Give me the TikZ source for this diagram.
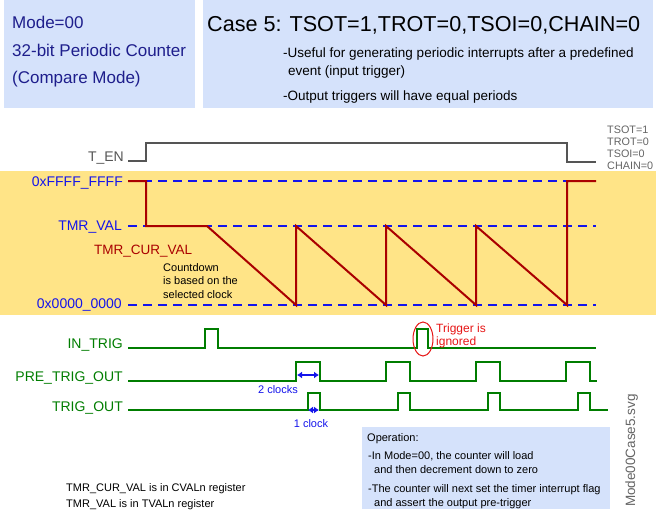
\documentclass[tikz,border=0pt]{standalone}
\usepackage{fontspec}
\setmainfont{Liberation Sans}
\usetikzlibrary{positioning,arrows.meta,shapes.geometric}
\definecolor{infoblue}{RGB}{213,226,251}
\definecolor{bandyellow}{RGB}{255,228,135}
\definecolor{navytext}{RGB}{30,30,140}
\definecolor{lvlblue}{RGB}{20,20,235}
\definecolor{cntred}{RGB}{170,0,0}
\definecolor{sigreen}{RGB}{0,125,0}
\definecolor{engray}{RGB}{85,85,85}
\definecolor{flaggray}{RGB}{100,100,100}
\definecolor{ignred}{RGB}{230,20,20}

\begin{document}
\begin{tikzpicture}[x=1pt, y=-1pt,
  panel/.style={fill=infoblue},
  wave/.style={line width=2pt},
  level/.style={lvlblue, line width=2pt, dash pattern=on 9pt off 6pt},
  txt/.style={inner sep=0pt, anchor=base west},
  lbl/.style={inner sep=0pt, anchor=base east, font=\fontsize{14}{16}\selectfont},
  small/.style={txt, font=\fontsize{11}{13}\selectfont},
  span/.style={{Latex[length=5pt,width=7pt]}-{Latex[length=5pt,width=7pt]}, lvlblue, line width=1.3pt},
  ring/.style={draw=ignred, line width=1pt, ellipse, minimum width=20pt, minimum height=34pt, inner sep=0pt}
]
\useasboundingbox (0,0) rectangle (656,514);
% header panels
\fill[panel] (4,0) rectangle (195,108);
\fill[panel] (203,0) rectangle (653,108);
\node[txt, navytext, font=\fontsize{17}{20}\selectfont] (mode1) at (12,28) {Mode=00};
\node[txt, navytext, font=\fontsize{17}{20}\selectfont] (mode2) at (12,56) {32-bit Periodic Counter};
\node[txt, navytext, font=\fontsize{17}{20}\selectfont] (mode3) at (12,83) {(Compare Mode)};
\node[txt, font=\fontsize{21.6}{26}\selectfont] (title) at (207,31) {Case 5: TSOT=1,TROT=0,TSOI=0,CHAIN=0};
\node[txt, font=\fontsize{13.5}{16}\selectfont] (use1) at (283,57) {-Useful for generating periodic interrupts after a predefined};
\node[txt, font=\fontsize{13.5}{16}\selectfont] (use2) at (288,75) {event (input trigger)};
\node[txt, font=\fontsize{13.5}{16}\selectfont] (use3) at (283,100) {-Output triggers will have equal periods};
% enable
\node[lbl, engray] (ten) at (124,161) {T\_EN};
\draw[wave, engray] (128,161) -- (146,161) -- (146,143) -- (567,143) -- (567,162) -- (596,162);
\node[txt, flaggray, font=\fontsize{10.8}{12}\selectfont] (flag1) at (607,133) {TSOT=1};
\node[txt, flaggray, font=\fontsize{10.8}{12}\selectfont] (flag2) at (607,145) {TROT=0};
\node[txt, flaggray, font=\fontsize{10.8}{12}\selectfont] (flag3) at (607,157) {TSOI=0};
\node[txt, flaggray, font=\fontsize{10.8}{12}\selectfont] (flag4) at (607,169) {CHAIN=0};
% counter band
\fill[bandyellow] (0,171) rectangle (656,315);
\draw[level] (128,181) -- (596,181);
\draw[level] (128,226) -- (596,226);
\draw[level] (128,305) -- (596,305);
\node[lbl, lvlblue] (ffff) at (123,186) {0xFFFF\_FFFF};
\node[lbl, lvlblue] (tmrval) at (122,230) {TMR\_VAL};
\node[lbl, lvlblue] (zero) at (122,308) {0x0000\_0000};
\draw[wave, cntred] (128,181) -- (146,181) -- (146,226) -- (207,226) -- (296,305) -- (296,226)
  -- (386,305) -- (386,226) -- (476,305) -- (476,226) -- (567,305) -- (567,181) -- (596,181);
\node[txt, cntred, font=\fontsize{13.5}{16}\selectfont] (curval) at (94,254) {TMR\_CUR\_VAL};
\node[small] (cnt1) at (163,271) {Countdown};
\node[small] (cnt2) at (163,284.5) {is based on the};
\node[small] (cnt3) at (163,298) {selected clock};
% triggers
\node[lbl, sigreen] (intrig) at (123,348) {IN\_TRIG};
\node[lbl, sigreen] (pretrig) at (123,381) {PRE\_TRIG\_OUT};
\node[lbl, sigreen] (trigout) at (123,411) {TRIG\_OUT};
\draw[wave, sigreen] (128,348) -- (205,348) -- (205,329) -- (218,329) -- (218,348) -- (417,348)
  -- (417,329) -- (428,329) -- (428,348) -- (596,348);
\draw[wave, sigreen] (128,381) -- (296,381) -- (296,362) -- (320,362) -- (320,381) -- (386,381)
  -- (386,362) -- (410,362) -- (410,381) -- (476,381) -- (476,362) -- (500,362) -- (500,381)
  -- (566,381) -- (566,362) -- (590,362) -- (590,381) -- (597,381);
\draw[wave, sigreen] (128,410) -- (308,410) -- (308,393) -- (320,393) -- (320,410) -- (398,410)
  -- (398,393) -- (410,393) -- (410,410) -- (488,410) -- (488,393) -- (500,393) -- (500,410)
  -- (578,410) -- (578,393) -- (590,393) -- (590,410) -- (608,410);
\coordinate (twoa) at (297,375);
\coordinate (twob) at (319,375);
\draw[span] (twoa) -- (twob);
\node[small, anchor=base, lvlblue] (twoclk) at (278,393) {2 clocks};
\coordinate (onea) at (308,410);
\coordinate (oneb) at (319,410);
\draw[span] (onea) -- (oneb);
\node[small, anchor=base, lvlblue] (oneclk) at (311,427) {1 clock};
\node[ring] (ign) at (423,339) {};
\node[txt, ignred, font=\fontsize{12}{13}\selectfont] (ign1) at (436,332) {Trigger is};
\node[txt, ignred, font=\fontsize{12}{13}\selectfont] (ign2) at (436,345) {ignored};
% notes
\fill[panel] (362,427) rectangle (610,509);
\node[small] (op0) at (367,441) {Operation:};
\node[small] (op1) at (368,459) {-In Mode=00, the counter will load};
\node[small] (op2) at (374,473) {and then decrement down to zero};
\node[small] (op3) at (368,492) {-The counter will next set the timer interrupt flag};
\node[small] (op4) at (374,506) {and assert the output pre-trigger};
\node[small] (reg1) at (66,491) {TMR\_CUR\_VAL is in CVALn register};
\node[small] (reg2) at (66,507) {TMR\_VAL is in TVALn register};
\node[txt, flaggray, rotate=90, font=\fontsize{13.5}{16}\selectfont] (svg) at (635,507) {Mode00Case5.svg};
\end{tikzpicture}
\end{document}
